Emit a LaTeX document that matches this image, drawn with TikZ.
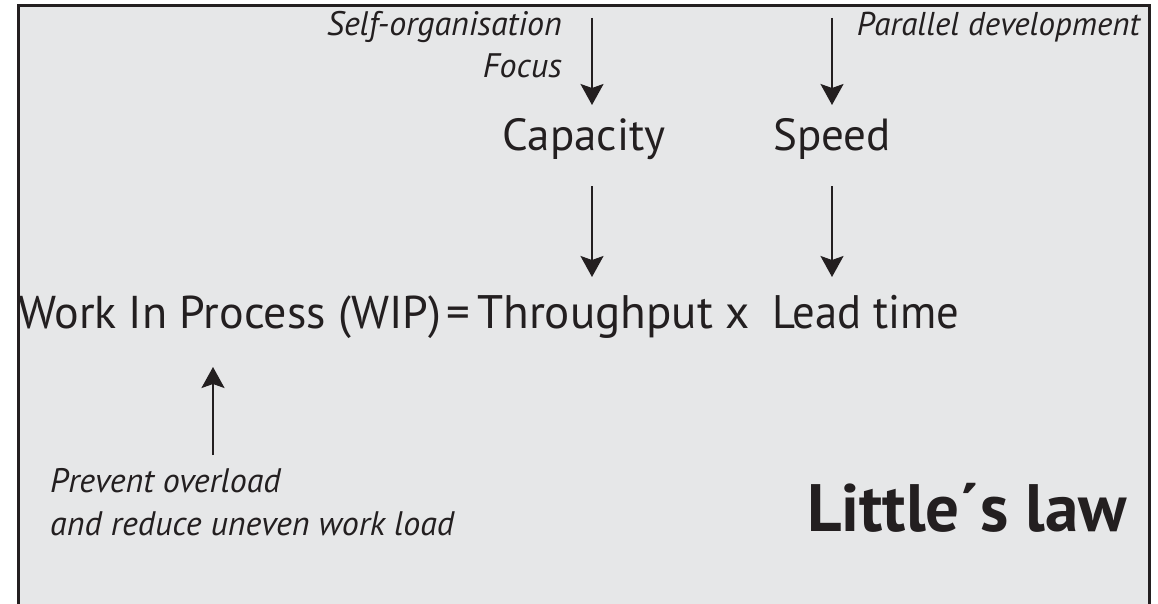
\documentclass[tikz,border=0pt]{standalone}
\usepackage{fontspec}
\setmainfont{PT Sans}
\usetikzlibrary{arrows.meta,calc}
\definecolor{ink}{HTML}{231F20}
\definecolor{bg}{HTML}{E6E7E8}
\begin{document}
\begin{tikzpicture}[x=1pt,y=-1pt,
  lbl/.style={inner sep=0pt,text=ink},
  big/.style={lbl,font=\fontsize{47}{56}\selectfont},
  bigw/.style={lbl,font=\fontsize{46}{56}\selectfont},
  bign/.style={lbl,font=\fontsize{47}{56}\selectfont\addfontfeature{FakeStretch=0.95}},
  mid/.style={lbl,font=\fontsize{45}{50}\selectfont},
  note/.style={lbl,font=\fontsize{34}{38}\selectfont\itshape},
  title/.style={lbl,font=\fontsize{67}{76}\selectfont\bfseries},
  arr/.style={draw=ink,line width=2pt,-{Stealth[length=21pt,width=23pt,inset=4pt]}}]
\useasboundingbox (0,0) rectangle (1158,604);
\fill[white] (0,0) rectangle (1158,604);
\fill[bg] (18,5.5) rectangle (1149,610);
\draw[ink,line width=3pt] (18,610) -- (18,5.5) -- (1149,5.5) -- (1149,610);
% top notes
\node[note,anchor=base east] (self) at (562,36) {Self-organisation};
\node[note,anchor=base east] (focus) at (562,78) {Focus};
\node[note,anchor=base east,font=\fontsize{33}{38}\selectfont\itshape] (par) at (1140,36) {Parallel development};
% mid
\node[mid,anchor=base] (capa) at (584,151) {Capacity};
\node[mid,anchor=base] (speed) at (832,151) {Speed};
% main line
\node[bigw,anchor=base west] (wip) at (18,328) {Work In Process (WIP)};
\node[big,anchor=base] (eq) at (458,328) {=};
\node[big,anchor=base west] (thr) at (477,328) {Throughput};
\node[big,anchor=base] (times) at (738,328) {x};
\node[bign,anchor=base west] (lead) at (772,328) {Lead time};
% bottom
\node[note,anchor=base west] (prev) at (50,492) {Prevent overload};
\node[note,anchor=base west] (reduce) at (50,535) {and reduce uneven work load};
\node[title,anchor=base east] (law) at (1127,531) {Little´s law};
% arrow columns
\coordinate (ca) at (592,18);
\coordinate (cb) at (832,18);
\coordinate (cc) at (213,455);
\draw[arr] (ca) -- (ca |- 0,105);
\draw[arr] (cb) -- (cb |- 0,105);
\draw[arr] (capa.south -| ca) ++(0,26) -- (ca |- 0,277);
\draw[arr] (speed.south -| cb) ++(0,26) -- (cb |- 0,277);
\draw[arr] (cc) -- (cc |- 0,367);
\end{tikzpicture}
\end{document}
